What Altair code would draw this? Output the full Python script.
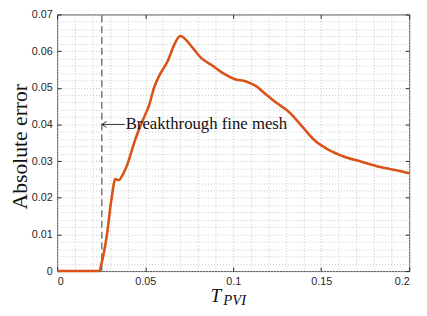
import altair as alt
import pandas as pd

# ---- data ----
t_pvi = [0, 0.0239, 0.0253, 0.0281, 0.0309, 0.0331, 0.0350, 0.0374, 0.0402, 0.0430,
         0.0458, 0.0496, 0.0523, 0.0551, 0.0579, 0.0626, 0.0672, 0.0700, 0.0737, 0.0775,
         0.0821, 0.0877, 0.0942, 0.1007, 0.1073, 0.1128, 0.1184, 0.1240, 0.1324, 0.1389,
         0.1464, 0.1538, 0.1631, 0.1725, 0.1836, 0.1948, 0.2]
abs_err = [0, 0, 0.0023, 0.0093, 0.0198, 0.0251, 0.0248, 0.0264, 0.0295, 0.0339,
           0.0378, 0.0422, 0.0453, 0.0501, 0.0532, 0.0571, 0.0624, 0.0641, 0.0628, 0.0606,
           0.0580, 0.0562, 0.0540, 0.0524, 0.0517, 0.0505, 0.0483, 0.0461, 0.0431, 0.0396,
           0.0356, 0.0332, 0.0312, 0.0299, 0.0284, 0.0273, 0.0267]

x_major = [0, 0.05, 0.1, 0.15, 0.2]
y_major = [0, 0.01, 0.02, 0.03, 0.04, 0.05, 0.06, 0.07]
x_minor = [round(i * 0.01, 2) for i in range(21)]
y_minor = [round(i * 0.002, 3) for i in range(36)]

breakthrough_t = [0.0254]
annot_y = [0.04]
annot_text_t = [0.0384]
annot_label = ["Breakthrough fine mesh"]
y_title = "Absolute error"
x_title_main = "T"
x_title_sub = "PVI"

W, H = 358, 261
XDOM = [0, 0.2]
YDOM = [0, 0.07]
LINE_COLOR = "#D95319"
AX = "#262626"

df = pd.DataFrame({"t": t_pvi, "err": abs_err})
xs = alt.Scale(domain=XDOM, nice=False, zero=False)
ys = alt.Scale(domain=YDOM, nice=False, zero=False)

base = alt.Chart(df)


def hidden_axis(**kw):
    opts = dict(title=None, labels=False, ticks=False, domain=False, grid=False)
    opts.update(kw)
    return alt.Axis(**opts)


# grid layer (dotted, minor step)
grid = base.mark_line(opacity=0).encode(
    x=alt.X("t:Q", scale=xs, axis=hidden_axis(orient="bottom", values=x_minor, grid=True,
                                             gridColor="#c8c8c8", gridDash=[1, 2], gridWidth=1)),
    y=alt.Y("err:Q", scale=ys, axis=hidden_axis(orient="left", values=y_minor, grid=True,
                                               gridColor="#c8c8c8", gridDash=[1, 2], gridWidth=1)),
)

# inward ticks at bottom / left
ticks_bl = base.mark_line(opacity=0).encode(
    x=alt.X("t:Q", scale=xs, axis=hidden_axis(orient="top", offset=-H, values=x_major, ticks=True,
                                             tickSize=4, tickColor=AX, tickWidth=1)),
    y=alt.Y("err:Q", scale=ys, axis=hidden_axis(orient="right", offset=-W, values=y_major, ticks=True,
                                               tickSize=4, tickColor=AX, tickWidth=1)),
)

# inward ticks at top / right
ticks_tr = base.mark_line(opacity=0).encode(
    x=alt.X("t:Q", scale=xs, axis=hidden_axis(orient="bottom", offset=-H, values=x_major, ticks=True,
                                             tickSize=4, tickColor=AX, tickWidth=1)),
    y=alt.Y("err:Q", scale=ys, axis=hidden_axis(orient="left", offset=-W, values=y_major, ticks=True,
                                               tickSize=4, tickColor=AX, tickWidth=1)),
)

# dashed breakthrough line
rule_df = pd.DataFrame({"bt": breakthrough_t, "y0": [YDOM[0]], "y1": [YDOM[1]]})
dash = alt.Chart(rule_df).mark_rule(color="#333333", strokeDash=[7, 4], strokeWidth=1).encode(
    x=alt.X("bt:Q", scale=xs, axis=None),
    y=alt.Y("y0:Q", scale=ys, axis=None),
    y2="y1:Q",
)

# main curve with labelled axes
line = base.mark_line(color=LINE_COLOR, strokeWidth=2.6, interpolate="monotone").encode(
    x=alt.X("t:Q", scale=xs, axis=alt.Axis(orient="bottom", values=x_major, title=None, ticks=False,
                                           domain=False, grid=False, labelExpr="format(datum.value, '~g')",
                                           labelPadding=5)),
    y=alt.Y("err:Q", scale=ys, axis=alt.Axis(orient="left", values=y_major, title=None, ticks=False,
                                             domain=False, grid=False, labelExpr="format(datum.value, '~g')",
                                             labelPadding=5)),
)

# annotation arrow + text
ann_df = pd.DataFrame({"x0": breakthrough_t, "x1": annot_text_t, "y": annot_y, "label": annot_label})
arrow_line = alt.Chart(ann_df).mark_rule(color="#333333", strokeWidth=1).encode(
    x=alt.X("x0:Q", scale=xs, axis=None),
    x2="x1:Q",
    y=alt.Y("y:Q", scale=ys, axis=None),
)
arrow_head = alt.Chart(ann_df).mark_point(
    shape="M1.6,-1L0,0L1.6,1", size=36, filled=False, color="#333333", strokeWidth=1, opacity=1
).encode(
    x=alt.X("x0:Q", scale=xs, axis=None),
    y=alt.Y("y:Q", scale=ys, axis=None),
)
ann_text = alt.Chart(ann_df).mark_text(
    align="left", baseline="middle", font="Liberation Serif", fontSize=17, color="#111111", dx=1
).encode(
    x=alt.X("x1:Q", scale=xs, axis=None),
    y=alt.Y("y:Q", scale=ys, axis=None),
    text="label:N",
)

# axis titles
ytitle = alt.Chart(pd.DataFrame({"s": [y_title]})).mark_text(
    angle=270, align="center", baseline="middle", font="Liberation Serif", fontSize=22, color="#111111"
).encode(x=alt.value(-38), y=alt.value(134.5), text="s:N")

xt_main = alt.Chart(pd.DataFrame({"s": [x_title_main]})).mark_text(
    align="left", baseline="alphabetic", font="Liberation Serif", fontStyle="italic", fontSize=19.5,
    color="#111111"
).encode(x=alt.value(156), y=alt.value(292), text="s:N")

xt_sub = alt.Chart(pd.DataFrame({"s": [x_title_sub]})).mark_text(
    align="left", baseline="alphabetic", font="Liberation Serif", fontStyle="italic", fontSize=15,
    color="#111111"
).encode(x=alt.value(169), y=alt.value(295), text="s:N")

chart = alt.layer(
    grid, ticks_bl, ticks_tr, dash, line, arrow_line, arrow_head, ann_text, ytitle, xt_main, xt_sub
).resolve_axis(x="independent", y="independent").properties(
    width=W, height=H,
    autosize=alt.AutoSizeParams(type="none"),
    padding={"left": 50, "top": 4, "right": 10, "bottom": 36},
).configure_view(stroke="#4a4a4a", strokeWidth=1).configure_axis(
    labelFont="Liberation Sans", labelFontSize=11, labelColor=AX
)

chart.save("out.html", embed_options={"renderer": "svg", "actions": False})
